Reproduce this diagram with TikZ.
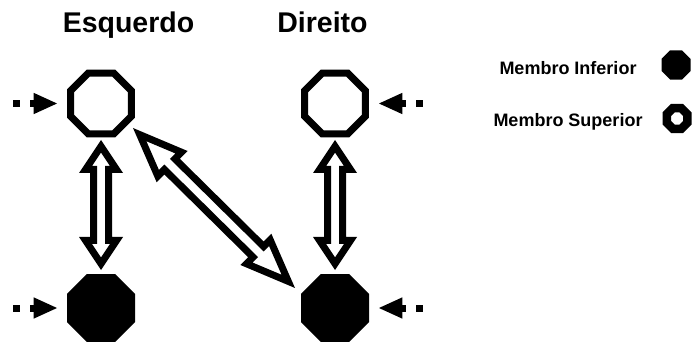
\documentclass[tikz,border=0pt]{standalone}
\usepackage{fontspec}
\setmainfont{Liberation Sans}
\usetikzlibrary{shapes.geometric,calc}

% hollow double-headed arrow between two tip points; #3 = head length
\newcommand\hollowarrow[3]{%
  \coordinate (haA) at #1;
  \coordinate (haB) at #2;
  \pgfmathanglebetweenpoints{\pgfpointanchor{haA}{center}}{\pgfpointanchor{haB}{center}}%
  \let\haAngle\pgfmathresult
  \pgfpointdiff{\pgfpointanchor{haA}{center}}{\pgfpointanchor{haB}{center}}%
  \pgfgetlastxy\haDx\haDy
  \pgfmathsetmacro\haL{veclen(\haDx,\haDy)}%
  \pgfmathsetmacro\haH{#3}%
  \pgfmathsetmacro\haTi{7/sin(atan(22/\haH))}%
  \pgfmathsetmacro\haWi{(\haH-7-\haTi)*22/\haH}%
  \fill[even odd rule, shift={(haA)}, rotate=\haAngle]
    (0,0) -- (\haH,22) -- (\haH,11) -- (\haL-\haH,11) -- (\haL-\haH,22) -- (\haL,0)
      -- (\haL-\haH,-22) -- (\haL-\haH,-11) -- (\haH,-11) -- (\haH,-22) -- cycle
    (\haTi,0) -- (\haH-7,\haWi) -- (\haH-7,4) -- (\haL-\haH+7,4) -- (\haL-\haH+7,\haWi)
      -- (\haL-\haTi,0) -- (\haL-\haH+7,-\haWi) -- (\haL-\haH+7,-4) -- (\haH-7,-4)
      -- (\haH-7,-\haWi) -- cycle;
}

\tikzset{
  upper/.style={regular polygon, regular polygon sides=8, draw=black, fill=white,
    line width=7pt, minimum size=66pt, inner sep=0pt},
  lower/.style={regular polygon, regular polygon sides=8, fill=black,
    minimum size=73.6pt, inner sep=0pt},
  legendlower/.style={regular polygon, regular polygon sides=8, fill=black,
    minimum size=31.4pt, inner sep=0pt},
  legendupper/.style={regular polygon, regular polygon sides=8, draw=black, fill=white,
    line width=8.5pt, minimum size=22.2pt, inner sep=0pt},
  heading/.style={font=\bfseries\fontsize{28.5}{30}\selectfont, anchor=base, inner sep=0pt},
  legendtext/.style={font=\bfseries\fontsize{18}{20}\selectfont, anchor=base, inner sep=0pt},
  feed/.pic={
    \fill (-23.4,-10.7) -- (0,0) -- (-23.4,10.7) -- cycle;
    \fill (-27,-3.5) rectangle (-23,3.5);
    \fill (-44,-3.5) rectangle (-37,3.5);
  }
}

\begin{document}
\begin{tikzpicture}[x=1pt,y=-1pt]
  \useasboundingbox (0,0) rectangle (692,344);

  % column headings
  \node[heading] (hl) at (128.5,33) {Esquerdo};
  \node[heading] (hr) at (322.5,33) {Direito};

  % limbs
  \node[upper] (tl) at (101,103.5) {};
  \node[upper] (tr) at (335,103.5) {};
  \node[lower] (bl) at (101,308) {};
  \node[lower] (br) at (335,308) {};

  % incoming stimuli
  \pic at ($(tl)+(-44,0)$) {feed};
  \pic at ($(bl)+(-44,0)$) {feed};
  \pic[rotate=180] at ($(tr)+(44,0)$) {feed};
  \pic[rotate=180] at ($(br)+(44,0)$) {feed};

  % couplings
  \hollowarrow{($(tl)!36.5pt!(bl)$)}{($(bl)!38pt!(tl)$)}{33}
  \hollowarrow{($(tr)!36.5pt!(br)$)}{($(br)!38pt!(tr)$)}{33}
  \hollowarrow{($(tl)+(32,24.5)$)}{($(br)+(-40,-20)$)}{55}

  % legend
  \node[legendtext] (li) at (568,75) {Membro Inferior};
  \node[legendtext] (ls) at (568,127) {Membro Superior};
  \node[legendlower] (lo) at (676,65) {};
  \node[legendupper] (lu) at (677,118.5) {};
\end{tikzpicture}
\end{document}
